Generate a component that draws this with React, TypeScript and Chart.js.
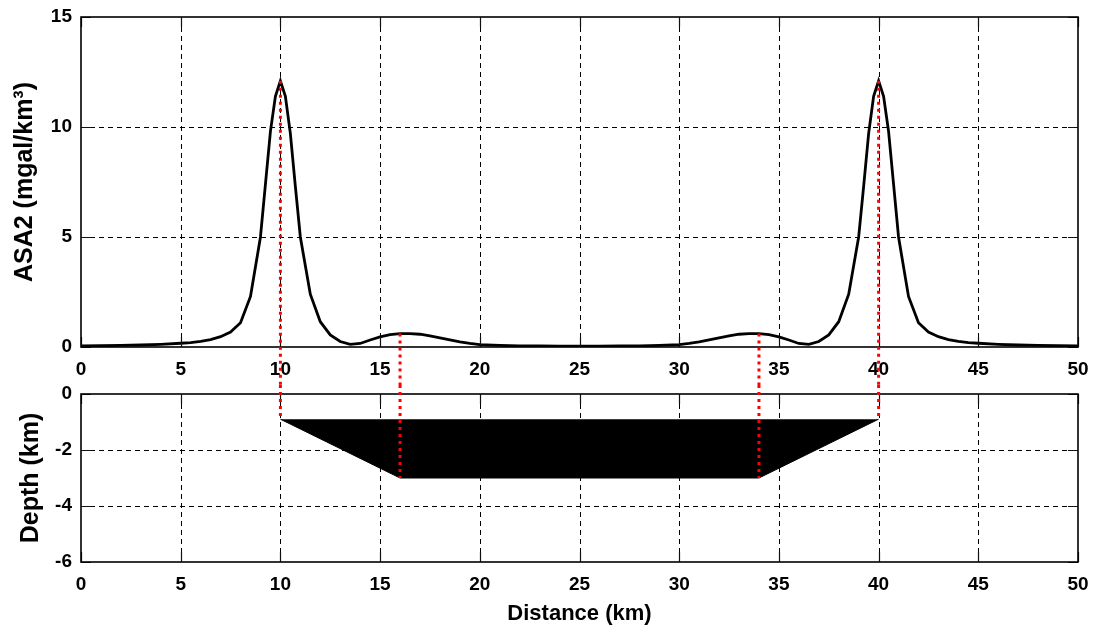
import React, { useEffect, useRef } from 'react';
import { Chart, registerables } from 'chart.js';

Chart.register(...registerables);

// ---- data ----
const distanceKm = [
  0, 1, 2, 3, 4, 5, 5.5, 6, 6.5, 7, 7.5, 8, 8.5, 9, 9.25, 9.5, 9.75, 10,
  10.25, 10.5, 10.75, 11, 11.5, 12, 12.5, 13, 13.5, 14, 14.5, 15, 15.5, 16,
  16.5, 17, 17.5, 18, 18.5, 19, 19.5, 20, 21, 22, 23, 24, 25, 26, 27, 28, 29,
  30, 30.5, 31, 31.5, 32, 32.5, 33, 33.5, 34, 34.5, 35, 35.5, 36, 36.5, 37,
  37.5, 38, 38.5, 39, 39.25, 39.5, 39.75, 40, 40.25, 40.5, 40.75, 41, 41.5,
  42, 42.5, 43, 43.5, 44, 44.5, 45, 46, 47, 48, 49, 50,
];
const asa2 = [
  0.05, 0.06, 0.07, 0.09, 0.12, 0.17, 0.2, 0.26, 0.34, 0.47, 0.68, 1.1, 2.3, 5.0, 7.4, 9.8, 11.4, 12.1,
  11.4, 9.7, 7.3, 5.0, 2.4, 1.15, 0.55, 0.25, 0.12, 0.16, 0.32, 0.46, 0.56, 0.61,
  0.61, 0.58, 0.51, 0.42, 0.32, 0.23, 0.16, 0.11, 0.07, 0.05, 0.05, 0.04, 0.04, 0.04, 0.05, 0.05, 0.07,
  0.11, 0.16, 0.23, 0.32, 0.42, 0.51, 0.58, 0.61, 0.61, 0.56, 0.46, 0.32, 0.16, 0.12, 0.25,
  0.55, 1.15, 2.4, 5.0, 7.3, 9.7, 11.4, 12.1, 11.4, 9.8, 7.4, 5.0, 2.3,
  1.1, 0.68, 0.47, 0.34, 0.26, 0.2, 0.17, 0.12, 0.09, 0.07, 0.06, 0.05,
];

const bodyX = [10, 16, 34, 40];
const bodyDepth = [-0.9, -3, -3, -0.9];
const bodyTopDepth = -0.9;

const markerX = [10, 16, 34, 40];
const markerAsa2 = [12.1, 0.61, 0.61, 12.1];
const markerDepth = [-0.9, -3, -3, -0.9];

const xTicks = [0, 5, 10, 15, 20, 25, 30, 35, 40, 45, 50];
const asaTicks = [0, 5, 10, 15];
const depthTicks = [-6, -4, -2, 0];

const FONT = "'Liberation Sans', Arial, Helvetica, sans-serif";

const W = 1094;
const TOP_H = 385;
const BOT_H = 632 - TOP_H;

const framePlugin = {
  id: 'matlabFrame',
  beforeDatasetsDraw(chart: any) {
    const { ctx, chartArea: a, scales } = chart;
    const xs = scales.x;
    const ys = scales.y;
    ctx.save();
    ctx.strokeStyle = '#000';
    ctx.lineWidth = 1;
    ctx.setLineDash([5, 4]);
    ctx.beginPath();
    xs.ticks.forEach((t: any) => {
      const px = Math.round(xs.getPixelForValue(t.value)) + 0.5;
      if (px > a.left + 2 && px < a.right - 2) {
        ctx.moveTo(px, a.bottom);
        ctx.lineTo(px, a.top);
      }
    });
    ys.ticks.forEach((t: any) => {
      const py = Math.round(ys.getPixelForValue(t.value)) + 0.5;
      if (py > a.top + 2 && py < a.bottom - 2) {
        ctx.moveTo(a.left, py);
        ctx.lineTo(a.right, py);
      }
    });
    ctx.stroke();
    ctx.restore();
  },
  afterDatasetsDraw(chart: any) {
    const { ctx, chartArea: a, scales } = chart;
    const xs = scales.x;
    const ys = scales.y;
    const tl = 10;
    ctx.save();
    ctx.setLineDash([]);
    ctx.strokeStyle = '#111';
    ctx.lineWidth = 1.2;
    ctx.beginPath();
    xs.ticks.forEach((t: any) => {
      const px = Math.round(xs.getPixelForValue(t.value)) + 0.5;
      ctx.moveTo(px, a.bottom);
      ctx.lineTo(px, a.bottom - tl);
      ctx.moveTo(px, a.top);
      ctx.lineTo(px, a.top + tl);
    });
    ys.ticks.forEach((t: any) => {
      const py = Math.round(ys.getPixelForValue(t.value)) + 0.5;
      ctx.moveTo(a.left, py);
      ctx.lineTo(a.left + tl, py);
      ctx.moveTo(a.right, py);
      ctx.lineTo(a.right - tl, py);
    });
    ctx.stroke();
    ctx.lineWidth = 1.6;
    ctx.strokeStyle = '#000';
    ctx.strokeRect(a.left, a.top, a.right - a.left, a.bottom - a.top);
    ctx.restore();
  },
};

function makeMarkerPlugin(mode: 'top' | 'bottom') {
  return {
    id: 'redMarkers',
    afterDatasetsDraw(chart: any) {
      const { ctx, scales } = chart;
      const xs = scales.x;
      const ys = scales.y;
      ctx.save();
      ctx.strokeStyle = '#ff0000';
      ctx.lineWidth = 3;
      ctx.setLineDash([3, 4]);
      ctx.beginPath();
      markerX.forEach((mx, i) => {
        const px = xs.getPixelForValue(mx);
        if (mode === 'top') {
          ctx.moveTo(px, ys.getPixelForValue(markerAsa2[i]));
          ctx.lineTo(px, chart.height);
        } else {
          ctx.moveTo(px, 0);
          ctx.lineTo(px, ys.getPixelForValue(markerDepth[i]));
        }
      });
      ctx.stroke();
      ctx.restore();
    },
  };
}

const tickFont = { family: FONT, size: 19, weight: 'bold' as const };

function xScale(height: number, withTitle: boolean) {
  return {
    type: 'linear' as const,
    min: 0,
    max: 50,
    afterBuildTicks: (s: any) => {
      s.ticks = xTicks.map((v) => ({ value: v }));
    },
    afterFit: (s: any) => {
      s.height = height;
      s.paddingLeft = 0;
      s.paddingRight = 0;
      s.paddingTop = 0;
      s.paddingBottom = 0;
    },
    grid: { display: false, drawTicks: false },
    border: { display: false },
    ticks: {
      padding: 11,
      color: '#000',
      font: tickFont,
      maxRotation: 0,
      autoSkip: false,
    },
    title: withTitle
      ? {
          display: true,
          text: 'Distance (km)',
          color: '#000',
          font: { family: FONT, size: 22, weight: 'bold' as const },
          padding: { top: 0, bottom: 5 },
        }
      : { display: false },
  };
}

function yScale(min: number, max: number, ticks: number[], title: string, titlePad: number) {
  return {
    type: 'linear' as const,
    min,
    max,
    afterBuildTicks: (s: any) => {
      s.ticks = ticks.map((v) => ({ value: v }));
    },
    afterFit: (s: any) => {
      s.width = 81;
      s.paddingLeft = 0;
      s.paddingRight = 0;
      s.paddingTop = 0;
      s.paddingBottom = 0;
    },
    grid: { display: false, drawTicks: false },
    border: { display: false },
    ticks: { padding: 9, color: '#000', font: tickFont, autoSkip: false },
    title: {
      display: true,
      text: title,
      color: '#000',
      font: { family: FONT, size: 25, weight: 'bold' as const },
      padding: { top: titlePad, bottom: 0 },
    },
  };
}

export default function App() {
  const topRef = useRef<HTMLCanvasElement>(null);
  const botRef = useRef<HTMLCanvasElement>(null);

  useEffect(() => {
    const top = new Chart(topRef.current as HTMLCanvasElement, {
      type: 'line',
      data: {
        datasets: [
          {
            data: distanceKm.map((x, i) => ({ x, y: asa2[i] })),
            borderColor: '#000',
            borderWidth: 2.8,
            pointRadius: 0,
            tension: 0,
            fill: false,
          },
        ],
      },
      options: {
        animation: false,
        responsive: false,
        devicePixelRatio: 1,
        layout: { padding: { top: 17, right: 16, left: 0, bottom: 0 } },
        plugins: { legend: { display: false }, tooltip: { enabled: false } },
        scales: {
          x: xScale(TOP_H - 347, false),
          y: yScale(0, 15, asaTicks, 'ASA2 (mgal/km³)', 10),
        },
      },
      plugins: [framePlugin, makeMarkerPlugin('top')],
    });

    const bottom = new Chart(botRef.current as HTMLCanvasElement, {
      type: 'line',
      data: {
        datasets: [
          {
            data: bodyX.map((x, i) => ({ x, y: bodyDepth[i] })),
            borderColor: '#000',
            backgroundColor: '#000',
            borderWidth: 1,
            pointRadius: 0,
            tension: 0,
            fill: { value: bodyTopDepth },
          },
        ],
      },
      options: {
        animation: false,
        responsive: false,
        devicePixelRatio: 1,
        layout: { padding: { top: 394 - TOP_H, right: 16, left: 0, bottom: 0 } },
        plugins: { legend: { display: false }, tooltip: { enabled: false } },
        scales: {
          x: xScale(BOT_H - (562 - TOP_H), true),
          y: yScale(-6, 0, depthTicks, 'Depth (km)', 16),
        },
      },
      plugins: [framePlugin, makeMarkerPlugin('bottom')],
    });

    return () => {
      top.destroy();
      bottom.destroy();
    };
  }, []);

  return (
    <div
      style={{
        position: 'absolute',
        left: 0,
        top: 0,
        width: W,
        height: 632,
        background: '#fff',
        overflow: 'hidden',
      }}
    >
      <canvas ref={topRef} width={W} height={TOP_H} style={{ display: 'block' }} />
      <canvas ref={botRef} width={W} height={BOT_H} style={{ display: 'block' }} />
    </div>
  );
}
